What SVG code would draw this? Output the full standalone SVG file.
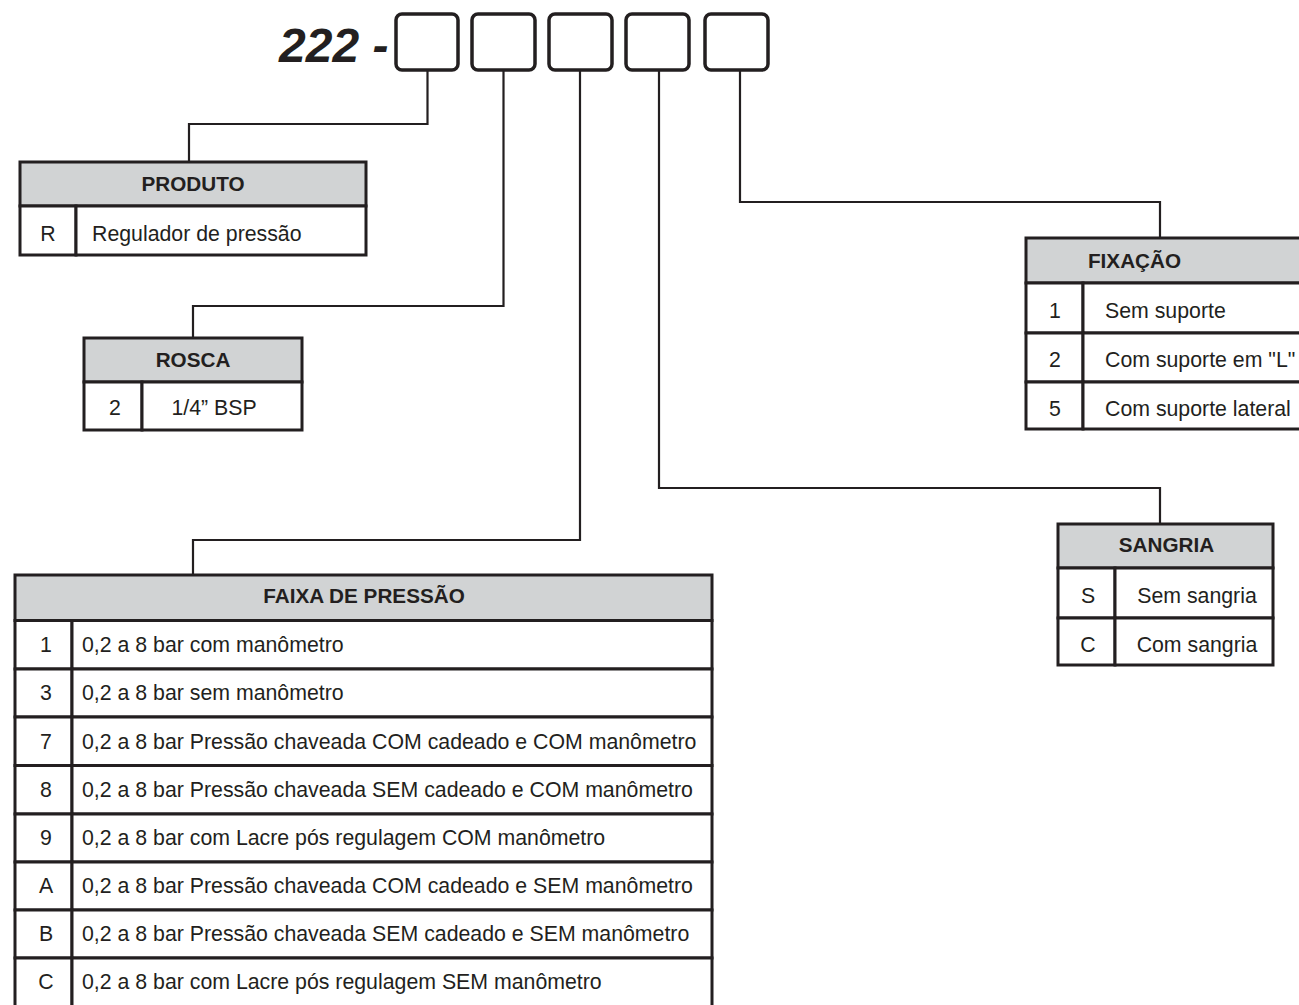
<svg xmlns="http://www.w3.org/2000/svg" width="1299" height="1005" viewBox="0 0 1299 1005">
<style>
.bg{fill:#ffffff}
.box{fill:#ffffff;stroke:#231f20;stroke-width:3.5}
.hdr{fill:#d1d3d4;stroke:#231f20;stroke-width:3}
.cell{fill:#ffffff;stroke:#231f20;stroke-width:3}
.ln{fill:none;stroke:#231f20;stroke-width:2.2}
.t{font-family:"Liberation Sans",Arial,sans-serif;font-size:21.3px;fill:#231f20}
.b{font-weight:bold;font-size:20.7px}
.m{text-anchor:middle}
.title{font-family:"Liberation Sans",Arial,sans-serif;font-size:48px;font-weight:bold;font-style:italic;fill:#231f20}
</style>
<rect class="bg" x="0" y="0" width="1299" height="1005"/>

<g id="code">
<text class="title" x="279" y="62">222 -</text>
<rect class="box" x="396" y="14" width="62" height="56" rx="6"/>
<rect class="box" x="472" y="14" width="63" height="56" rx="6"/>
<rect class="box" x="549" y="14" width="63" height="56" rx="6"/>
<rect class="box" x="626" y="14" width="63" height="56" rx="6"/>
<rect class="box" x="705" y="14" width="63" height="56" rx="6"/>
</g>

<g id="connectors">
<path class="ln" d="M427.5,71 V124 H189 V162"/>
<path class="ln" d="M503.5,71 V306 H193 V338"/>
<path class="ln" d="M580,71 V540 H193 V575"/>
<path class="ln" d="M659,71 V488 H1160 V524"/>
<path class="ln" d="M740,71 V202 H1160 V238"/>
</g>

<g id="produto">
<rect class="hdr" x="20" y="162" width="346" height="44"/>
<rect class="cell" x="20" y="206" width="56" height="49"/>
<rect class="cell" x="76" y="206" width="290" height="49"/>
<text class="t b m" x="193" y="191">PRODUTO</text>
<text class="t m" x="48" y="241">R</text>
<text class="t" x="92" y="241">Regulador de pressão</text>
</g>

<g id="rosca">
<rect class="hdr" x="84" y="338" width="218" height="44"/>
<rect class="cell" x="84" y="382" width="58" height="48"/>
<rect class="cell" x="142" y="382" width="160" height="48"/>
<text class="t b m" x="193" y="367">ROSCA</text>
<text class="t m" x="115" y="415">2</text>
<text class="t m" x="214" y="415">1/4” BSP</text>
</g>

<g id="fixacao">
<rect class="hdr" x="1026" y="238" width="290" height="45"/>
<rect class="cell" x="1026" y="283" width="57" height="50"/>
<rect class="cell" x="1083" y="283" width="233" height="50"/>
<rect class="cell" x="1026" y="333" width="57" height="49"/>
<rect class="cell" x="1083" y="333" width="233" height="49"/>
<rect class="cell" x="1026" y="382" width="57" height="47"/>
<rect class="cell" x="1083" y="382" width="233" height="47"/>
<text class="t b m" x="1134.5" y="268">FIXAÇÃO</text>
<text class="t m" x="1055" y="318">1</text>
<text class="t" x="1105" y="318">Sem suporte</text>
<text class="t m" x="1055" y="367">2</text>
<text class="t" x="1105" y="367">Com suporte em "L"</text>
<text class="t m" x="1055" y="416">5</text>
<text class="t" x="1105" y="416">Com suporte lateral</text>
</g>

<g id="sangria">
<rect class="hdr" x="1058" y="524" width="215" height="44"/>
<rect class="cell" x="1058" y="568" width="57" height="50"/>
<rect class="cell" x="1115" y="568" width="158" height="50"/>
<rect class="cell" x="1058" y="618" width="57" height="47"/>
<rect class="cell" x="1115" y="618" width="158" height="47"/>
<text class="t b m" x="1166.5" y="552">SANGRIA</text>
<text class="t m" x="1088" y="603">S</text>
<text class="t m" x="1197" y="603">Sem sangria</text>
<text class="t m" x="1088" y="652">C</text>
<text class="t m" x="1197" y="652">Com sangria</text>
</g>

<g id="faixa">
<rect class="hdr" x="15" y="575" width="697" height="45.5"/>
<rect class="cell" x="15" y="620.5" width="57" height="48.5"/>
<rect class="cell" x="72" y="620.5" width="640" height="48.5"/>
<rect class="cell" x="15" y="669" width="57" height="48"/>
<rect class="cell" x="72" y="669" width="640" height="48"/>
<rect class="cell" x="15" y="717" width="57" height="48.5"/>
<rect class="cell" x="72" y="717" width="640" height="48.5"/>
<rect class="cell" x="15" y="765.5" width="57" height="48.5"/>
<rect class="cell" x="72" y="765.5" width="640" height="48.5"/>
<rect class="cell" x="15" y="814" width="57" height="48"/>
<rect class="cell" x="72" y="814" width="640" height="48"/>
<rect class="cell" x="15" y="862" width="57" height="48"/>
<rect class="cell" x="72" y="862" width="640" height="48"/>
<rect class="cell" x="15" y="910" width="57" height="48"/>
<rect class="cell" x="72" y="910" width="640" height="48"/>
<rect class="cell" x="15" y="958" width="57" height="60"/>
<rect class="cell" x="72" y="958" width="640" height="60"/>
<text class="t b m" x="364" y="603">FAIXA DE PRESSÃO</text>
<text class="t m" x="46" y="652">1</text>
<text class="t" x="82" y="652">0,2 a 8 bar com manômetro</text>
<text class="t m" x="46" y="700">3</text>
<text class="t" x="82" y="700">0,2 a 8 bar sem manômetro</text>
<text class="t m" x="46" y="748.5">7</text>
<text class="t" x="82" y="748.5">0,2 a 8 bar Pressão chaveada COM cadeado e COM manômetro</text>
<text class="t m" x="46" y="797">8</text>
<text class="t" x="82" y="797">0,2 a 8 bar Pressão chaveada SEM cadeado e COM manômetro</text>
<text class="t m" x="46" y="845">9</text>
<text class="t" x="82" y="845">0,2 a 8 bar com Lacre pós regulagem COM manômetro</text>
<text class="t m" x="46" y="893">A</text>
<text class="t" x="82" y="893">0,2 a 8 bar Pressão chaveada COM cadeado e SEM manômetro</text>
<text class="t m" x="46" y="941">B</text>
<text class="t" x="82" y="941">0,2 a 8 bar Pressão chaveada SEM cadeado e SEM manômetro</text>
<text class="t m" x="46" y="989">C</text>
<text class="t" x="82" y="989">0,2 a 8 bar com Lacre pós regulagem SEM manômetro</text>
</g>
</svg>
